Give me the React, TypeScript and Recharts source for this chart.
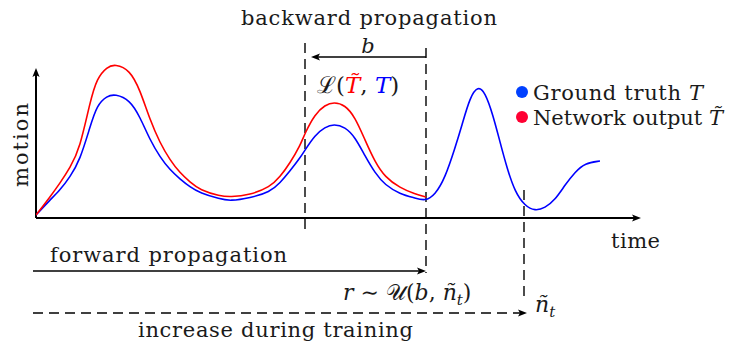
import React from "react";
import { ComposedChart, Line, XAxis, YAxis, ReferenceLine, ReferenceDot } from "recharts";

// ground truth motion T (blue)
const truthTime = [0, 14, 24, 34, 44, 54, 61, 71, 79, 94, 104, 114, 124, 134, 144, 154, 164, 184, 194, 214, 234, 244, 254, 264, 269, 279, 289, 298, 309, 319, 329, 339, 349, 364, 379, 389, 399, 409, 419, 426, 434, 442, 449, 457, 464, 471, 479, 489, 499, 509, 519, 529, 539, 549, 564];
const truthMotion = [3, 18, 28, 41, 58, 91, 113, 122, 124, 118, 101, 78, 61, 48, 39, 31, 25, 19, 17, 20, 26, 35, 47, 60, 68, 83, 91, 94, 91, 81, 62, 45, 33, 24, 20, 17, 23, 40, 70, 93, 121, 132, 126, 103, 76, 50, 26, 12, 7, 10, 18, 33, 46, 55, 57];

// network output T~ (red), only up to the cut point r
const outputTime = [0, 14, 24, 34, 44, 54, 61, 71, 79, 94, 104, 114, 124, 134, 144, 154, 164, 184, 194, 214, 234, 244, 254, 264, 269, 279, 289, 298, 309, 319, 329, 339, 349, 364, 379, 390];
const outputMotion = [3, 21, 35, 50, 70, 116, 140, 151, 154, 148, 128, 98, 75, 58, 45, 36, 28, 22, 21, 23, 31, 41, 55, 72, 85, 104, 113, 116, 113, 101, 78, 56, 41, 30, 24, 21];

const legendLabels = ["Ground truth ", "Network output "];

const BLUE = "#0000ff";
const RED = "#ff0000";
const INK = "#1a1a1a";
const FONT = "'DejaVu Serif', serif";

const truthData = truthTime.map((t, i) => ({ t, v: truthMotion[i] }));
const outputData = outputTime.map((t, i) => ({ t, v: outputMotion[i] }));

// line with a filled arrow head at its end
const arrow = (p: any) => {
  const { x1, y1, x2, y2, stroke, strokeWidth, strokeDasharray } = p;
  const a = Math.atan2(y2 - y1, x2 - x1);
  const len = 9;
  const half = 3.6;
  const bx = x2 - len * Math.cos(a);
  const by = y2 - len * Math.sin(a);
  const pts = [
    [x2, y2],
    [bx + half * Math.sin(a), by - half * Math.cos(a)],
    [bx + 2 * Math.cos(a), by + 2 * Math.sin(a)],
    [bx - half * Math.sin(a), by + half * Math.cos(a)],
  ];
  return (
    <g>
      <line x1={x1} y1={y1} x2={bx + 3 * Math.cos(a)} y2={by + 3 * Math.sin(a)} stroke={stroke} strokeWidth={strokeWidth} strokeDasharray={strokeDasharray} />
      <polygon points={pts.map((q) => q.join(",")).join(" ")} fill={stroke} />
    </g>
  );
};

const note = (key: string, t: number, m: number, content: React.ReactNode, extra: any = {}, rotate = false) => (
  <ReferenceDot
    key={key}
    x={t}
    y={m}
    r={0}
    ifOverflow="visible"
    shape={(p: any) => (
      <text
        x={p.cx}
        y={p.cy}
        fontFamily={FONT}
        fontSize={21}
        fill={INK}
        transform={rotate ? `rotate(-90 ${p.cx} ${p.cy})` : undefined}
        {...extra}
      >
        {content}
      </text>
    )}
  />
);

const it = (s: string, fill?: string) => (
  <tspan fontStyle="italic" fill={fill}>
    {s}
  </tspan>
);

export default function App() {
  return (
    <div style={{ position: "absolute", left: 0, top: 0, background: "#fff" }}>
      <ComposedChart width={730} height={347} margin={{ top: 63, right: 90, bottom: 129, left: 36 }}>
        <XAxis type="number" dataKey="t" domain={[0, 604]} allowDataOverflow hide />
        <YAxis type="number" dataKey="v" domain={[0, 155]} allowDataOverflow hide />

        {/* axes */}
        <ReferenceLine segment={[{ x: 0, y: 0 }, { x: 0, y: 150 }]} ifOverflow="visible" stroke="#000" strokeWidth={2} shape={arrow} />
        <ReferenceLine segment={[{ x: 0, y: 0 }, { x: 605, y: 0 }]} ifOverflow="visible" stroke="#000" strokeWidth={2} shape={arrow} />

        {/* dashed markers */}
        <ReferenceLine segment={[{ x: 269, y: 175 }, { x: 269, y: -12 }]} ifOverflow="visible" stroke="#000" strokeWidth={1.4} strokeDasharray="10 6" />
        <ReferenceLine segment={[{ x: 390, y: 170 }, { x: 390, y: -55 }]} ifOverflow="visible" stroke="#000" strokeWidth={1.4} strokeDasharray="10 6" />
        <ReferenceLine segment={[{ x: 488, y: 28 }, { x: 488, y: -84 }]} ifOverflow="visible" stroke="#000" strokeWidth={1.4} strokeDasharray="10 6" />

        {/* propagation arrows */}
        <ReferenceLine segment={[{ x: 390, y: 161 }, { x: 275, y: 161 }]} ifOverflow="visible" stroke="#000" strokeWidth={1.4} shape={arrow} />
        <ReferenceLine segment={[{ x: -3, y: -53 }, { x: 390, y: -53 }]} ifOverflow="visible" stroke="#000" strokeWidth={1.4} shape={arrow} />
        <ReferenceLine segment={[{ x: -3, y: -95 }, { x: 491, y: -95 }]} ifOverflow="visible" stroke="#000" strokeWidth={1.4} strokeDasharray="10 6" shape={arrow} />

        <Line data={truthData} dataKey="v" type="basis" stroke={BLUE} strokeWidth={1.6} dot={false} isAnimationActive={false} />
        <Line data={outputData} dataKey="v" type="basis" stroke={RED} strokeWidth={1.6} dot={false} isAnimationActive={false} />

        {/* legend */}
        <ReferenceDot x={486} y={126} r={6} fill="#0040ff" stroke="none" ifOverflow="visible" />
        <ReferenceDot x={486} y={101} r={6} fill="#ff0033" stroke="none" ifOverflow="visible" />
        {note("lg1", 497, 118, <>{legendLabels[0]}{it("T")}</>, { textLength: 170 })}
        {note("lg2", 497, 93, <>{legendLabels[1]}{it("T\u0303")}</>, { textLength: 190 })}

        {/* labels */}
        {note("bp", 205, 193, "backward propagation", { textLength: 256 })}
        {note("b", 332, 165, it("b"), { textAnchor: "middle" })}
        {note("loss", 281, 125, <>{"\u2112("}{it("T\u0303", RED)}{", "}{it("T", BLUE)}{")"}</>, { fontSize: 23 })}
        {note("motion", -8, 73, "motion", { textAnchor: "middle", textLength: 84 }, true)}
        {note("time", 575, -30, "time", { textLength: 49 })}
        {note("fp", 14, -44, "forward propagation", { textLength: 237 })}
        {note("r", 307, -82, <>{it("r")}{" \u223C \uD835\uDCB0("}{it("b")}{", "}{it("\u00F1")}<tspan dy={5} fontSize={15} fontStyle="italic">t</tspan><tspan dy={-5}>)</tspan></>, { fontSize: 22 })}
        {note("nt", 499, -94, <>{it("\u00F1")}<tspan dy={5} fontSize={15} fontStyle="italic">t</tspan></>, { fontSize: 22 })}
        {note("inc", 102, -119, "increase during training", { textLength: 275 })}
      </ComposedChart>
    </div>
  );
}
